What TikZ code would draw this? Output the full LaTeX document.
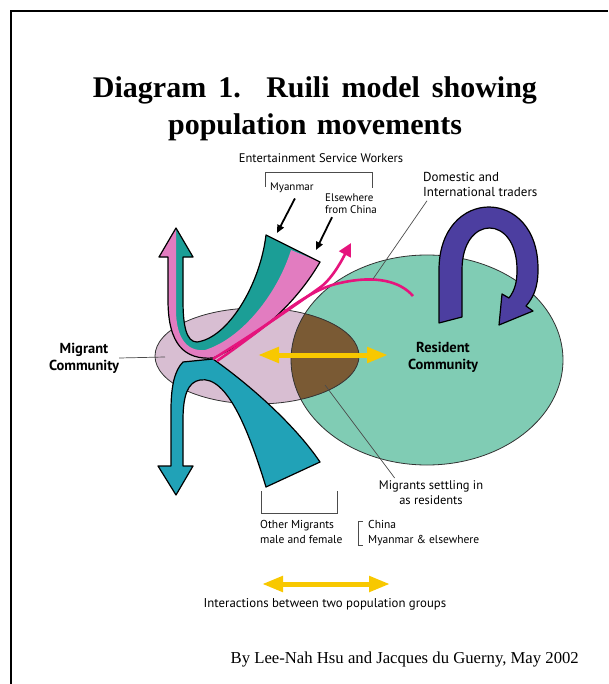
\documentclass[tikz,border=0pt]{standalone}
\usepackage{fontspec}
\setmainfont{Liberation Serif}
\setsansfont{PT Sans}
\usetikzlibrary{arrows.meta,calc}
\definecolor{ResGreen}{RGB}{128,204,180}
\definecolor{MigLilac}{RGB}{216,190,210}
\definecolor{SettleBrown}{RGB}{122,90,52}
\definecolor{FlowTeal}{RGB}{27,158,150}
\definecolor{FlowBlue}{RGB}{33,162,183}
\definecolor{FlowPink}{RGB}{226,124,192}
\definecolor{TradeMagenta}{RGB}{230,20,125}
\definecolor{LoopPurple}{RGB}{76,62,160}
\definecolor{LinkYellow}{RGB}{248,200,0}
\tikzset{
	band/.style={draw=black,line width=1.2pt,line join=round},
	pool/.style={draw=black!80,line width=0.8pt},
	title/.style={font=\bfseries\fontsize{30}{37}\selectfont,inner sep=0pt},
	lbl/.style={font=\sffamily\fontsize{12.5}{15}\selectfont,inner sep=0pt},
	small/.style={font=\sffamily\fontsize{11}{12}\selectfont,inner sep=0pt},
	heavy/.style={font=\sffamily\bfseries\fontsize{14.5}{17}\selectfont,inner sep=0pt,align=center},
	leader/.style={draw=black!70,line width=0.7pt},
	pointer/.style={draw=black,line width=1.8pt,-{Triangle[length=8pt,width=7pt]}},
	trade/.style={draw=TradeMagenta,line width=2.6pt},
	link/.style={draw=LinkYellow,line width=5pt,
		{Triangle[length=21pt,width=15pt]}-{Triangle[length=21pt,width=15pt]}},
}
\def\upperflow{(176,228) -- (159,257) -- (168,257) -- (168,300)
	.. controls (168,345) and (185,360) .. (213,358)
	.. controls (255,340) and (295,305) .. (320,262) -- (266,235)
	.. controls (260,285) and (228,338) .. (197,342)
	.. controls (186,342) and (183,325) .. (183,300) -- (183,257) -- (193,257) -- cycle}
\begin{document}
\begin{tikzpicture}[x=1pt,y=-1pt]
	\useasboundingbox (0,0) rectangle (608,684);
	\draw[line width=1.4pt] (11,684) -- (11,11) -- (608,11);
	% title
	\node[title,anchor=base] (title1) at (315,98)
		{Diagram\hspace{0.4em}1.\hspace{0.85em}Ruili\hspace{0.4em}model\hspace{0.4em}showing};
	\node[title,anchor=base] (title2) at (315,135) {population\hspace{0.35em}movements};
	% the two communities
	\fill[ResGreen] (427,360) ellipse [x radius=136,y radius=105];
	\fill[MigLilac] (257,356) ellipse [x radius=102,y radius=48];
	\begin{scope}
		\clip (257,356) ellipse [x radius=102,y radius=48];
		\fill[SettleBrown] (427,360) ellipse [x radius=136,y radius=105];
	\end{scope}
	\draw[pool] (427,360) ellipse [x radius=136,y radius=105];
	\draw[pool] (257,356) ellipse [x radius=102,y radius=48];
	% resident loop
	\filldraw[band,fill=LoopPurple] (439,323) -- (439,270)
		.. controls (439,186) and (539,186) .. (538,270)
		.. controls (538,288) and (533,298) .. (526,306) -- (533,311) -- (499,325) -- (502,294) -- (509,298)
		.. controls (515,290) and (517,282) .. (517,270)
		.. controls (517,214) and (462,214) .. (462,270) -- (462,317) -- cycle;
	% interactions
	\coordinate (linkL) at (258,355);
	\coordinate (linkR) at (388,355);
	\draw[link] (linkL) -- (linkR);
	% other migrants
	\filldraw[band,fill=FlowBlue] (183,362) -- (213,359)
		.. controls (250,385) and (295,425) .. (320,462) -- (266,487)
		.. controls (250,435) and (228,375) .. (200,380)
		.. controls (188,382) and (183,395) .. (183,420) -- (183,466) -- (193,466) -- (176,495) -- (158,466) -- (171,466) -- (171,410)
		.. controls (171,385) and (175,370) .. (183,362) -- cycle;
	% entertainment service workers
	\fill[FlowTeal] \upperflow;
	\fill[FlowPink] (176,228) -- (159,257) -- (168,257) -- (168,300)
		.. controls (168,345) and (185,360) .. (213,358)
		.. controls (255,340) and (295,305) .. (320,262) -- (291,250)
		.. controls (277,295) and (241,339) .. (205,350)
		.. controls (185,352) and (176,335) .. (176,310) -- (176,257) -- cycle;
	\draw[band] \upperflow;
	% traders
	\coordinate (tradeC) at (373,279);
	\draw[trade,-{Triangle[length=13pt,width=13pt]}] (213,359)
		.. controls (260,330) and (300,302) .. (322,286) .. controls (334,276) and (343,258) .. (351,243);
	\draw[trade] (217,361) .. controls (268,326) and (305,290) .. (340,283)
		.. controls (375,275) and (400,281) .. (413,296);
	% labels
	\node[lbl,anchor=base] (esw) at (321,163) {Entertainment Service Workers};
	\draw[leader] (265,187) -- (265,172) -- (372,172) -- (372,188);
	\node[small,anchor=base west] (mya) at (270,191) {Myanmar};
	\node[small,anchor=north west,align=left] (else) at (325,194) {Elsewhere\\from China};
	\coordinate (myaTip) at (277,233);
	\coordinate (elseTip) at (316,250);
	\draw[pointer] ($(mya.south)+(3,5)$) -- (myaTip);
	\draw[pointer] ($(else.south west)+(7,3)$) -- (elseTip);
	\node[lbl,font=\sffamily\fontsize{13}{15}\selectfont,anchor=north west,align=left] (dom) at (423,172) {Domestic and\\International traders};
	\draw[leader] ($(dom.south west)+(4,4)$) -- (tradeC);
	\node[heavy] (miglbl) at (84,358) {Migrant\\Community};
	\coordinate (migL) at (165,357);
	\draw[leader] (miglbl.east) -- (migL);
	\node[heavy] (reslbl) at (443,357) {Resident\\Community};
	\node[lbl,font=\sffamily\fontsize{12.5}{15}\selectfont,anchor=north,align=center] (settle) at (431,480) {Migrants settling in\\as residents};
	\coordinate (settleP) at (325,385);
	\draw[leader] ($(settle.north west)+(16,-2)$) -- (settleP);
	\draw[leader] (261,491) -- (261,513) -- (337,513) -- (337,491);
	\node[lbl,font=\sffamily\fontsize{11.5}{15}\selectfont,anchor=north west,align=left] (other) at (260,520) {Other Migrants\\male and female};
	\draw[leader] (363,521) -- (358,521) -- (358,545) -- (363,545);
	\node[lbl,font=\sffamily\fontsize{11.5}{15}\selectfont,anchor=north west,align=left] (origin) at (368,520) {China\\Myanmar \& elsewhere};
	% legend
	\coordinate (keyL) at (262,584);
	\coordinate (keyR) at (390,584);
	\draw[link] (keyL) -- (keyR);
	\node[lbl,font=\sffamily\fontsize{12.8}{16}\selectfont,anchor=base] (key) at (325,607) {Interactions between two population groups};
	\node[font=\fontsize{16.7}{19}\selectfont,inner sep=0pt,anchor=base east] (credit) at (579,663)
		{By Lee-Nah Hsu and Jacques du Guerny, May 2002};
\end{tikzpicture}
\end{document}
